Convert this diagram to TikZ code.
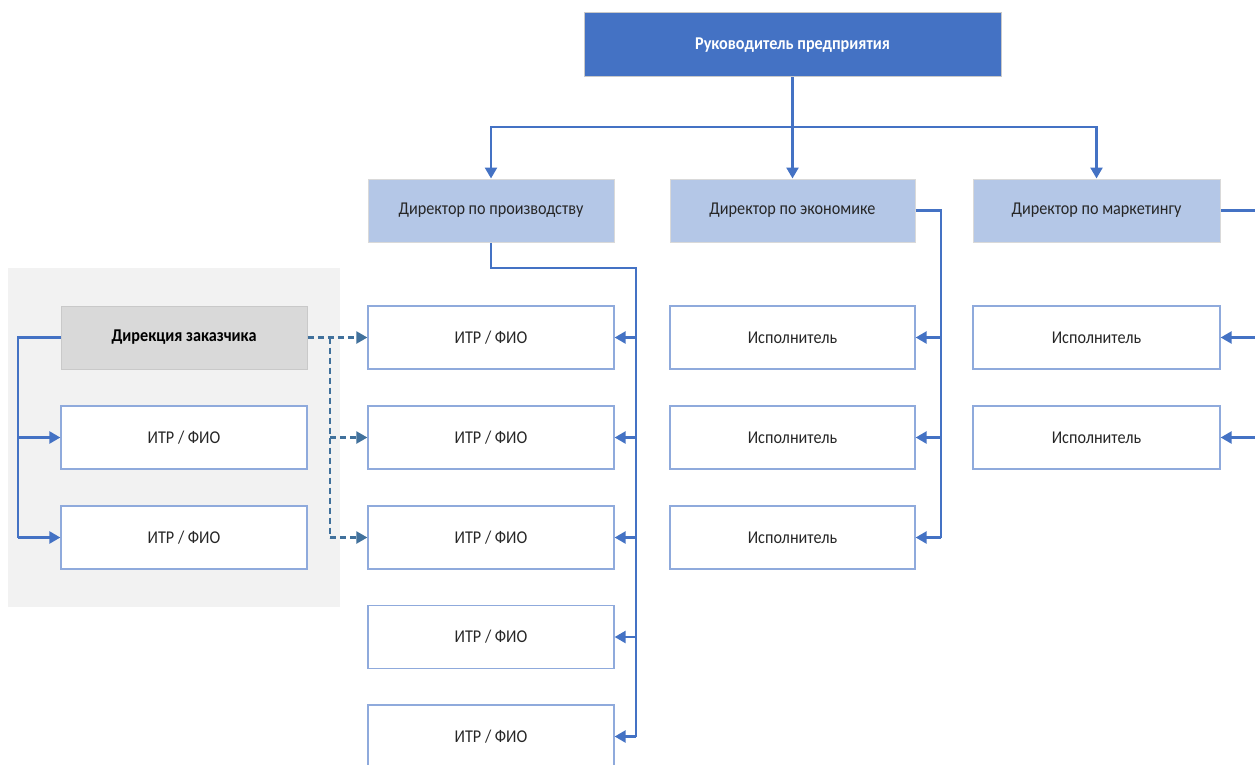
\documentclass[tikz,border=0pt]{standalone}
\usepackage{fontspec}
\setmainfont{Carlito}[FakeStretch=0.9]
\usetikzlibrary{arrows.meta}
\definecolor{mainblue}{HTML}{4472C4}
\definecolor{lightblue}{HTML}{B4C7E7}
\definecolor{boxborder}{HTML}{8FAADC}
\definecolor{graybg}{HTML}{F2F2F2}
\definecolor{grayfill}{HTML}{D9D9D9}
\definecolor{grayborder}{HTML}{C9C9C9}
\definecolor{dashblue}{HTML}{41719C}
\tikzset{
  box/.style={draw=boxborder, line width=1.3pt, fill=white, minimum width=246pt, minimum height=63pt, inner sep=0pt, font=\fontsize{18}{20}\selectfont, text=black!85},
  dirbox/.style={draw=grayborder!70, line width=1pt, fill=lightblue, minimum width=246pt, minimum height=63pt, inner sep=0pt, font=\fontsize{18}{20}\selectfont, text=black!85},
  topbox/.style={draw=grayborder, line width=1pt, fill=mainblue, minimum width=417pt, minimum height=64pt, inner sep=0pt, font=\bfseries\fontsize{18}{20}\selectfont, text=white},
  graybox/.style={draw=grayborder, line width=1pt, fill=grayfill, minimum width=246pt, minimum height=63pt, inner sep=0pt, font=\bfseries\fontsize{18}{20}\selectfont, text=black},
  conn/.style={draw=mainblue, line width=2.5pt},
  arr/.style={conn, -{Triangle[length=11pt,width=12pt]}},
  dconn/.style={draw=dashblue, line width=2.3pt, dash pattern=on 6pt off 4pt},
  darr/.style={dconn, -{Triangle[length=11pt,width=12pt]}}
}
\begin{document}
\begin{tikzpicture}[x=1pt,y=-1pt]
\useasboundingbox (0,0) rectangle (1255,765);
\clip (0,0) rectangle (1255,765);
\fill[white] (0,0) rectangle (1255,765);
\fill[graybg] (8,268) rectangle (340,607);

\node[topbox] (top) at (792.5,45) {Руководитель предприятия};
\node[dirbox] (prod) at (491,210.5) {Директор по производству};
\node[dirbox, minimum width=245pt] (econ) at (792.5,210.5) {Директор по экономике};
\node[dirbox, minimum width=247pt] (mkt) at (1096.5,210.5) {Директор по маркетингу};

\node[box] (p1) at (491,337.5) {ИТР / ФИО};
\node[box] (p2) at (491,437.5) {ИТР / ФИО};
\node[box] (p3) at (491,537.5) {ИТР / ФИО};
\node[box] (p4) at (491,637) {ИТР / ФИО};
\node[box] (p5) at (491,736.5) {ИТР / ФИО};

\node[box, minimum width=245pt] (e1) at (792.5,337.5) {Исполнитель};
\node[box, minimum width=245pt] (e2) at (792.5,437.5) {Исполнитель};
\node[box, minimum width=245pt] (e3) at (792.5,537.5) {Исполнитель};

\node[box, minimum width=247pt] (m1) at (1096.5,337.5) {Исполнитель};
\node[box, minimum width=247pt] (m2) at (1096.5,437.5) {Исполнитель};

\node[graybox] (dz) at (184,337.5) {Дирекция заказчика};
\node[box] (l1) at (184,437.5) {ИТР / ФИО};
\node[box] (l2) at (184,537.5) {ИТР / ФИО};

% top level
\coordinate (tj) at (792.5,127);
\draw[conn] (top.south) -- (tj);
\draw[arr] (tj) -| (prod.north);
\draw[arr] (tj) -- (econ.north);
\draw[arr] (tj) -| (mkt.north);

% production bus
\coordinate (pb) at (636,268);
\coordinate (pbe) at (636,736.5);
\draw[conn] (prod.south) |- (pb) -- (pbe);
\foreach \n in {p1,p2,p3,p4,p5} \draw[arr] (pb |- \n.east) -- (\n.east);

% economy bus
\coordinate (eb) at (941,210.5);
\coordinate (ebe) at (941,537.5);
\draw[conn] (econ.east) -- (eb) -- (ebe);
\foreach \n in {e1,e2,e3} \draw[arr] (eb |- \n.east) -- (\n.east);

% marketing bus (continues off the edge)
\coordinate (mb) at (1262,210.5);
\draw[conn] (mkt.east) -- (mb);
\coordinate (mb1) at (1262,337.5);
\coordinate (mb2) at (1262,437.5);
\draw[arr] (mb1) -- (m1.east);
\draw[arr] (mb2) -- (m2.east);

% customer bus
\coordinate (lb) at (18,337.5);
\coordinate (lbe) at (18,537.5);
\draw[conn] (dz.west) -- (lb) -- (lbe);
\foreach \n in {l1,l2} \draw[arr] (lb |- \n.west) -- (\n.west);

% dashed links
\coordinate (db) at (330,337.5);
\coordinate (dbe) at (330,537.5);
\draw[darr] (dz.east) -- (p1.west);
\draw[dconn] (db) -- (dbe);
\foreach \n in {p2,p3} \draw[darr] (db |- \n.west) -- (\n.west);
\end{tikzpicture}
\end{document}
